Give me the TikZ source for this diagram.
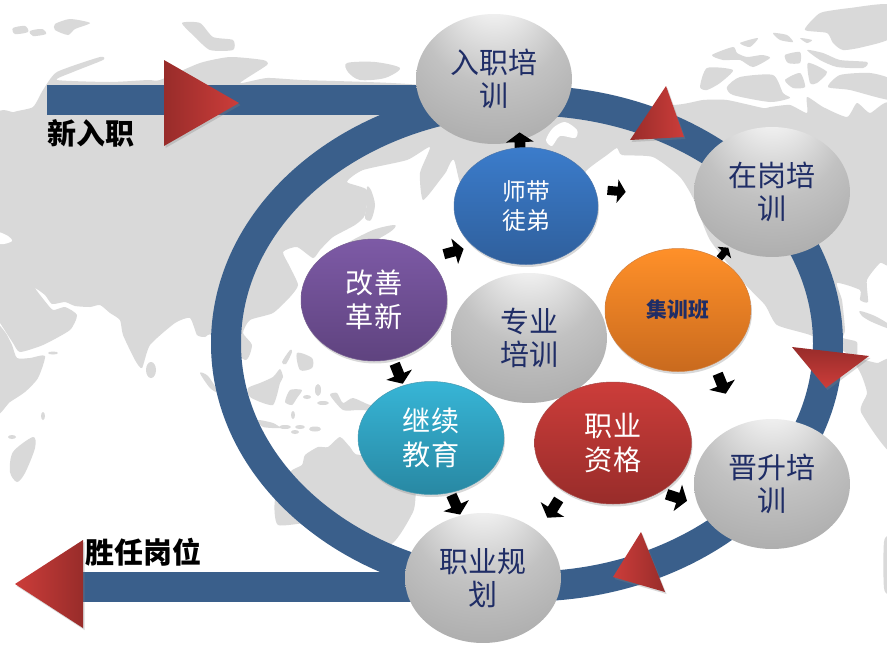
\documentclass[tikz,border=0pt]{standalone}
\usepackage{fontspec}
\setmainfont{Noto Sans CJK SC}
\usetikzlibrary{shapes.geometric,shapes.arrows,shadows,positioning}
\definecolor{mapgray}{HTML}{D9D9D9}
\definecolor{ringblue}{HTML}{3A5F8B}
\definecolor{navytext}{HTML}{1F2D66}
\definecolor{flagdark}{HTML}{982C2A}
\definecolor{flaglight}{HTML}{CC3D3A}
\definecolor{purpletop}{HTML}{7D5AA6}
\definecolor{purplelow}{HTML}{5F437F}
\definecolor{bluetop}{HTML}{3B7CCB}
\definecolor{bluelow}{HTML}{2F5F9C}
\definecolor{tealtop}{HTML}{37B5D6}
\definecolor{teallow}{HTML}{2888A3}
\definecolor{orangetop}{HTML}{FF9029}
\definecolor{orangelow}{HTML}{C96A1E}
\pgfdeclareradialshading{ballgray}{\pgfpoint{0bp}{36bp}}{color(0bp)=(white);color(8bp)=(black!8);color(22bp)=(black!24);color(38bp)=(black!33);color(50bp)=(black!46)}
\tikzset{
  land/.style={fill=mapgray,draw=none},
  ball/.style={ellipse,inner sep=0pt,minimum width=3.12cm,minimum height=2.6cm,shade,shading=ballgray,
    text=navytext,align=center,font=\fontsize{16.5}{19}\selectfont},
  orb/.style n args={4}{ellipse,inner sep=0pt,minimum width=#1cm,minimum height=#2cm,top color=#3,bottom color=#4,
    draw=#4!85!white,line width=.3pt,text=white,align=center,font=\fontsize{16}{19.5}\selectfont,
    drop shadow={shadow xshift=.02cm,shadow yshift=-.05cm,opacity=.3}},
  hop/.style={single arrow,fill=black,inner sep=.1cm,minimum height=.43cm,
    single arrow head extend=.17cm,single arrow tip angle=110},
  flag/.style={drop shadow={shadow xshift=.03cm,shadow yshift=-.04cm,opacity=.3}},
  sign/.style={font=\fontsize{16.5}{19}\bfseries\selectfont,text=black,inner sep=0pt}
}
\begin{document}
\begin{tikzpicture}[x=.02cm,y=-.02cm]
\useasboundingbox (0,0) rectangle (887,653);
\fill[white] (0,0) rectangle (887,653);
% map
\fill[land] plot[smooth cycle,tension=.35] coordinates {(-5,122)(14,112)(33,107)(43,90)(57,72)(100,57)(103,60)(73,72)(57,80)(110,82)(148,80)(160,80)(200,63)(230,57)(263,60)(267,65)(240,83)(267,78)(302,80)(420,85)(560,110)(674,105)(703,100)(727,100)(763,108)(770,107)(790,105)(807,113)(807,97)(823,107)(847,117)(857,103)(870,113)(892,107)(892,258)(880,263)(867,280)(868,302)(860,300)(860,290)(837,283)(842,300)(845,330)(843,338)(857,342)(858,357)(877,363)(892,362)(892,452)(861,412)(867,393)(860,372)(845,352)(810,335)(777,325)(765,305)(744,283)(710,240)(694,200)(680,177)(653,157)(622,155)(617,148)(607,155)(587,170)(560,200)(470,200)(454,160)(446,172)(440,180)(423,200)(420,173)(430,147)(407,160)(363,170)(347,182)(367,190)(365,215)(355,225)(333,237)(320,250)(313,258)(297,247)(283,252)(290,267)(298,285)(290,297)(273,313)(250,320)(243,333)(252,345)(245,360)(212,335)(205,337)(197,335)(190,318)(175,323)(150,345)(142,368)(135,360)(123,335)(120,320)(110,313)(100,305)(90,307)(75,306)(65,302)(52,304)(45,295)(35,288)(44,300)(53,310)(65,307)(77,315)(70,330)(43,345)(20,352)(13,343)(0,323)(-5,318)};
\fill[white] plot[smooth cycle,tension=.5] coordinates {(-3,232)(8,236)(12,241)(4,244)(-3,243)};
\fill[white] plot[smooth cycle,tension=.5] coordinates {(553,128)(565,122)(577,130)(575,138)(560,136)(552,146)(546,140)};
\fill[land] plot[smooth cycle,tension=.5] coordinates {(860,311)(875,316)(890,325)(890,329)(872,322)(862,316)};
\fill[land] plot[smooth cycle,tension=.4] coordinates {(-5,327)(5,332)(12,345)(17,358)(30,358)(45,356)(38,378)(25,392)(10,402)(-5,413)};
\fill[land] plot[smooth cycle,tension=.5] coordinates {(10,472)(13,452)(33,437)(35,448)(25,473)(17,482)};
\fill[land] (43,416) ellipse (2 and 4) (12,437) ellipse (4 and 2) (53,353) ellipse (5 and 1.5) (151,370) ellipse (5 and 8);
\fill[land] plot[smooth cycle,tension=.5] coordinates {(200,373)(208,376)(218,392)(210,388)};
% islands of the south east
\fill[land] plot[smooth cycle,tension=.4] coordinates {(248,388)(260,383)(273,377)(280,369)(283,377)(280,383)(277,395)(273,405)(263,403)(250,397)};
\fill[land] plot[smooth cycle,tension=.4] coordinates {(285,402)(290,390)(302,390)(297,398)(292,405)};
\fill[land] plot[smooth cycle,tension=.5] coordinates {(282,362)(290,350)(292,352)(286,364)};
\fill[land] plot[smooth cycle,tension=.5] coordinates {(297,353)(312,358)(312,368)(300,370)};
\fill[land] (307,397) ellipse (4 and 2) (318,390) ellipse (3 and 6) (323,403) ellipse (6 and 2) (285,427) ellipse (6 and 2) (300,427) ellipse (5 and 2) (295,432) ellipse (4 and 2) (315,429) ellipse (6 and 2.5) (293,415) ellipse (2 and 4);
\fill[land] plot[smooth cycle,tension=.4] coordinates {(330,395)(337,393)(343,403)(353,398)(370,405)(400,412)(360,410)(343,410)};
\fill[land] plot[smooth cycle,tension=.4] coordinates {(258,420)(273,423)(280,428)(263,427)};
\fill[land] plot[smooth cycle,tension=.35] coordinates {(275,500)(290,472)(302,465)(305,455)(318,447)(328,447)(340,437)(350,447)(360,455)(420,440)(416,490)(413,512)(390,545)(340,540)(313,523)(278,525)};
% japan and kamchatka side
\fill[land] plot[smooth cycle,tension=.5] coordinates {(367,187)(371,190)(375,205)(371,220)(365,218)(367,203)};
\fill[land] plot[smooth cycle,tension=.5] coordinates {(345,245)(373,230)(395,225)(390,232)(365,245)};
% north
\fill[land] plot[smooth cycle,tension=.5] coordinates {(13,28)(25,26)(28,32)(15,34)};
\fill[land] plot[smooth cycle,tension=.5] coordinates {(30,31)(42,29)(46,34)(33,36)};
\fill[land] plot[smooth cycle,tension=.4] coordinates {(55,24)(70,19)(90,23)(75,29)(68,35)(55,30)};
\fill[land] plot[smooth cycle,tension=.4] coordinates {(182,23)(200,23)(213,37)(233,40)(233,50)(210,50)(195,37)};
\fill[land] plot[smooth cycle,tension=.5] coordinates {(347,63)(375,62)(400,68)(385,78)(360,80)(348,72)};
% arctic
\fill[land] plot[smooth cycle,tension=.4] coordinates {(805,30)(815,17)(823,12)(850,8)(892,5)(892,37)(863,47)(843,50)(833,43)(827,33)};
\fill[land] plot[smooth cycle,tension=.4] coordinates {(807,50)(823,53)(840,60)(867,62)(863,68)(837,67)(820,60)};
\fill[land] plot[smooth cycle,tension=.4] coordinates {(712,55)(733,47)(737,53)(747,57)(762,55)(770,58)(753,67)(740,60)(723,60)};
\fill[land] plot[smooth cycle,tension=.4] coordinates {(700,87)(707,68)(733,70)(720,83)(707,90)};
\fill[land] plot[smooth cycle,tension=.4] coordinates {(727,87)(740,77)(773,75)(783,93)(790,98)(770,102)(733,95)};
\fill[land] plot[smooth cycle,tension=.4] coordinates {(785,80)(800,73)(805,87)(793,88)};
\fill[land] plot[smooth cycle,tension=.4] coordinates {(808,63)(827,72)(817,83)(810,83)};
\fill[land] plot[smooth cycle,tension=.4] coordinates {(828,87)(840,75)(870,73)(892,80)(892,100)(850,90)};
\fill[land] plot[smooth cycle,tension=.4] coordinates {(785,55)(800,52)(800,63)(788,63)};
\fill[land] plot[smooth cycle,tension=.4] coordinates {(773,33)(787,35)(793,42)(780,40)};
\fill[land] plot[smooth cycle,tension=.4] coordinates {(800,38)(812,40)(807,43)};
\fill[land] plot[smooth cycle,tension=.4] coordinates {(740,43)(758,38)(750,47)};
\fill[land] plot[smooth cycle,tension=.5] coordinates {(884,542)(890,540)(890,590)(884,588)};
% ring and the two bars
\draw[ringblue,line width=.6cm] (527,343.5) ellipse (301 and 243);
\fill[ringblue] (47,85) rectangle (490,115);
\fill[ringblue] (83,572) rectangle (490,602);
% big grey balls
\node[ball] (entry) at (494,79) {入职培\\训};
\node[ball] (post) at (772,192) {在岗培\\训};
\node[ball] (promote) at (772,484) {晋升培\\训};
\node[ball] (career) at (483,578) {职业规\\划};
\node[ball] (major) at (529,338) {专业\\培训};
% small black arrows
\foreach \name/\x/\y/\ang/\sz in {h1/520/145/92/1,h2/615/191/-5/.85,h3/452/252/15/.95,h4/723/254/50/.65,h5/398/372/-68/1,h6/721/382/-68/1,h7/675/497/-18/1,h8/554/507/-122/1,h9/455/503/-66/1}
  \node[hop,rotate=\ang,scale=\sz] (\name) at (\x,\y) {};
% coloured nodes
\node[orb={2.88}{2.34}{bluetop}{bluelow},font=\fontsize{13.5}{16}\selectfont] (mentor) at (526,206) {师带\\徒弟};
\node[orb={2.92}{2.44}{purpletop}{purplelow}] (improve) at (374,300) {改善\\革新};
\node[orb={2.92}{2.26}{tealtop}{teallow}] (further) at (431,438) {继续\\教育};
\node[orb={3.14}{2.44}{flaglight}{flagdark}] (qualify) at (613,443) {职业\\资格};
\node[orb={2.92}{2.46}{orangetop}{orangelow},text=navytext,font=\fontsize{11.8}{14}\bfseries\selectfont] (camp) at (678,310) {集训班};
% red triangles
\path[flag,left color=flagdark,right color=flaglight] (164,60) -- (239,103) -- (164,146) -- cycle;
\path[flag,left color=flaglight,right color=flagdark] (15,584) -- (83,540) -- (83,628) -- cycle;
\path[flag,left color=flagdark,right color=flaglight] (666,86) -- (684,137) -- (630,140) -- cycle;
\path[flag,top color=flagdark,bottom color=flaglight] (792,347) -- (869,356) -- (826,388) -- cycle;
\path[flag,left color=flaglight,right color=flagdark] (641,532) -- (665,592) -- (613,577) -- cycle;
% labels
\node[sign,anchor=west] (join) at (47,133) {新入职};
\node[sign,anchor=west] (fit) at (85,552) {胜任岗位};
\end{tikzpicture}
\end{document}
